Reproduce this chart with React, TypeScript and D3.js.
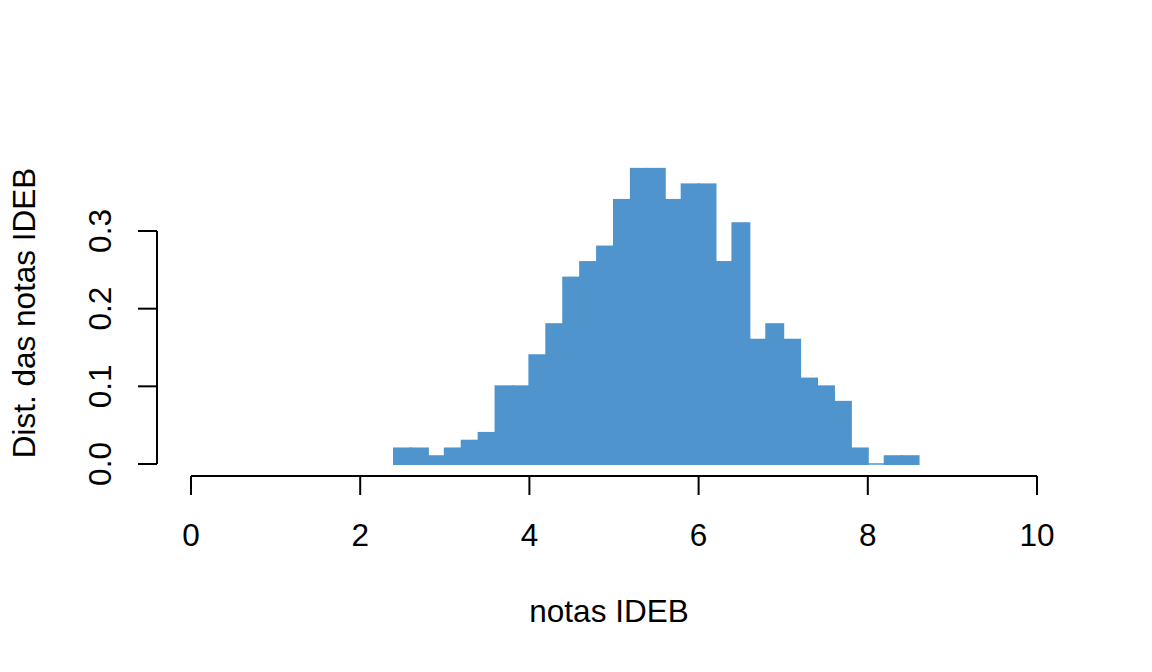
import React from "react";
import * as d3 from "d3";

const binStarts = [2.4, 2.6, 2.8, 3.0, 3.2, 3.4, 3.6, 3.8, 4.0, 4.2, 4.4, 4.6, 4.8, 5.0, 5.2, 5.4, 5.6, 5.8, 6.0, 6.2, 6.4, 6.6, 6.8, 7.0, 7.2, 7.4, 7.6, 7.8, 8.0, 8.2, 8.4];
const densities = [0.02, 0.02, 0.01, 0.02, 0.03, 0.04, 0.10, 0.10, 0.14, 0.18, 0.24, 0.26, 0.28, 0.34, 0.38, 0.38, 0.34, 0.36, 0.36, 0.26, 0.31, 0.16, 0.18, 0.16, 0.11, 0.10, 0.08, 0.02, 0.0, 0.01, 0.01];
const binWidth = 0.2;
const xTicks = [0, 2, 4, 6, 8, 10];
const yTicks = [0, 0.1, 0.2, 0.3];
const xTitle = "notas IDEB";
const yTitle = "Dist. das notas IDEB";

export default function App() {
  const W = 1152, H = 672;
  const x = d3.scaleLinear().domain([0, 10]).range([191, 1037]);
  const y = d3.scaleLinear().domain([0, 0.3]).range([464, 231]);
  const font = "'Liberation Sans', Arial, sans-serif";
  const fill = "#4F94CD";
  const fs = 31.5;
  return (
    <svg width={W} height={H} style={{ position: "absolute", left: 0, top: 0, background: "#fff" }}>
      <rect x={0} y={0} width={W} height={H} fill="#fff" />
      {binStarts.map((b, i) =>
        densities[i] > 0 ? (
          <rect key={i} x={x(b)} y={y(densities[i])} width={x(b + binWidth) - x(b)} height={y(0) - y(densities[i])}
            fill={fill} stroke={fill} strokeWidth={2} />
        ) : (
          <line key={i} x1={x(b)} x2={x(b + binWidth)} y1={y(0)} y2={y(0)} stroke={fill} strokeWidth={1.5} />
        )
      )}
      {/* x axis */}
      <line x1={x(0)} x2={x(10)} y1={476} y2={476} stroke="#000" strokeWidth={2} />
      {xTicks.map((t) => (
        <g key={t}>
          <line x1={x(t)} x2={x(t)} y1={476} y2={495} stroke="#000" strokeWidth={2} />
          <text x={x(t)} y={546} textAnchor="middle" fontFamily={font} fontSize={fs}>{t}</text>
        </g>
      ))}
      {/* y axis */}
      <line x1={157} x2={157} y1={y(0)} y2={y(0.3)} stroke="#000" strokeWidth={2} />
      {yTicks.map((t) => (
        <g key={t}>
          <line x1={138} x2={157} y1={y(t)} y2={y(t)} stroke="#000" strokeWidth={2} />
          <text transform={`translate(111,${y(t)}) rotate(-90)`} textAnchor="middle" fontFamily={font} fontSize={fs}>{d3.format(".1f")(t)}</text>
        </g>
      ))}
      <text x={609} y={622} textAnchor="middle" fontFamily={font} fontSize={fs}>{xTitle}</text>
      <text transform={`translate(35,313) rotate(-90)`} textAnchor="middle" fontFamily={font} fontSize={fs}>{yTitle}</text>
    </svg>
  );
}
